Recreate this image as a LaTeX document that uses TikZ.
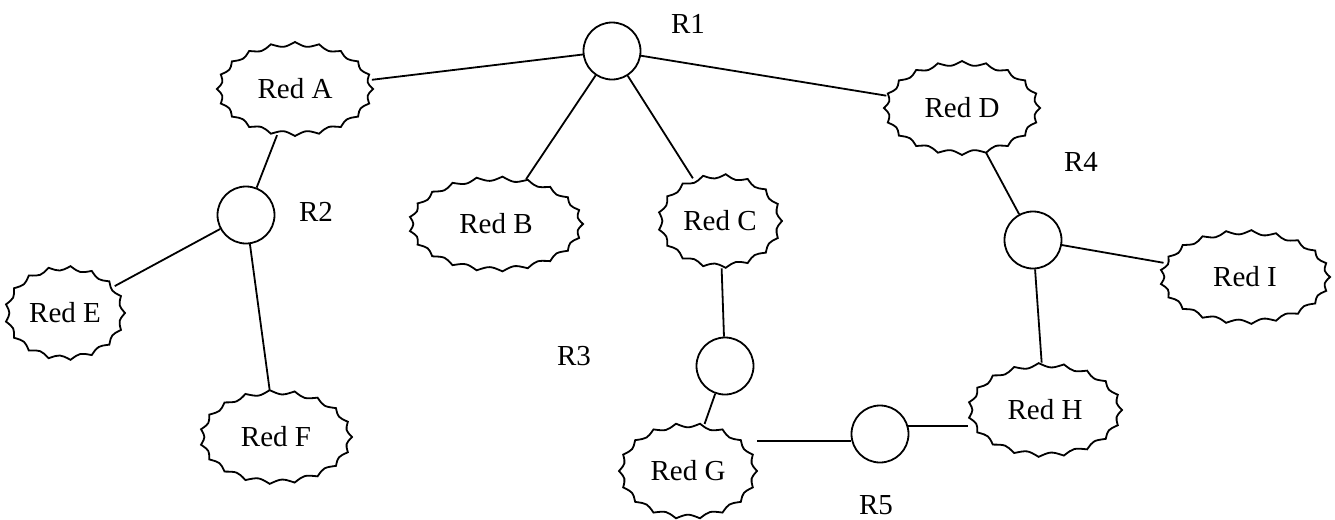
\documentclass[tikz,border=0pt]{standalone}
\usepackage{fontspec}
\setmainfont{Liberation Serif}
\usetikzlibrary{shapes.geometric,calc}
\newcommand\wavyoutline[4]{% name, a, b, number of points
  \pgfmathsetmacro\wavA{#2-5.5}%
  \pgfmathsetmacro\wavB{#3-5.5}%
  \draw[line width=0.9pt, line join=miter] ($(#1)+(#2,0)$)
    \foreach \i in {1,...,#4} {
      .. controls ($(#1)+({\wavA*cos((\i-0.5)*360/#4)},{\wavB*sin((\i-0.5)*360/#4)})$)
      .. ($(#1)+({#2*cos(\i*360/#4)},{#3*sin(\i*360/#4)})$)
    } -- cycle;
}
\begin{document}
\begin{tikzpicture}[x=0.5pt,y=-0.5pt,
  net/.style={ellipse, draw=none, inner sep=0pt, font=\fontsize{14.5}{16}\selectfont},
  rt/.style={circle, draw, line width=0.9pt, minimum size=28.5pt, inner sep=0pt},
  lbl/.style={font=\fontsize{14.5}{16}\selectfont, inner sep=0pt},
  link/.style={line width=0.9pt}]
\useasboundingbox (0,0) rectangle (1335,520);
\node[rt] (R1) at (612,51) {};
\node[lbl] (l1) at (688,24) {R1};
\node[rt] (R2) at (246,215) {};
\node[lbl] (l2) at (316,212) {R2};
\node[rt] (R3) at (725,366) {};
\node[lbl] (l3) at (574,356) {R3};
\node[rt] (R4) at (1033,240) {};
\node[lbl] (l4) at (1081,162) {R4};
\node[rt] (R5) at (880,434) {};
\node[lbl] (l5) at (876,505) {R5};
\node[net, minimum width=78pt, minimum height=47pt] (A) at (295,89) {Red A};
\node[net, minimum width=87pt, minimum height=47.5pt] (B) at (496,224) {Red B};
\node[net, minimum width=62pt, minimum height=47pt] (C) at (720,221) {Red C};
\node[net, minimum width=78pt, minimum height=47pt] (D) at (962,108) {Red D};
\node[net, minimum width=60pt, minimum height=47pt] (E) at (65,313) {Red E};
\node[net, minimum width=76pt, minimum height=47pt] (F) at (276,437) {Red F};
\node[net, minimum width=69pt, minimum height=48pt] (G) at (688,471) {Red G};
\node[net, minimum width=77pt, minimum height=47pt] (H) at (1045,410) {Red H};
\node[net, minimum width=85pt, minimum height=47pt] (I) at (1245,277) {Red I};
\wavyoutline{A}{78}{47}{20}
\wavyoutline{B}{87}{47.5}{21}
\wavyoutline{C}{62}{47}{17}
\wavyoutline{D}{78}{47}{20}
\wavyoutline{E}{60}{47}{17}
\wavyoutline{F}{76}{47}{19}
\wavyoutline{G}{69}{48}{18}
\wavyoutline{H}{77}{47}{19}
\wavyoutline{I}{85}{47}{21}
\draw[link] (R1) -- (A);
\draw[link] (R1) -- (B);
\draw[link] (R1) -- (C);
\draw[link] (R1) -- (D);
\draw[link] (A) -- (R2);
\draw[link] (R2) -- (E);
\draw[link] (R2) -- (F);
\draw[link] (C) -- (R3);
\draw[link] (R3) -- (G);
\draw[link] (G.east |- R5.194) -- (R5.194);
\draw[link] (R5.16) -- (H.west |- R5.16);
\draw[link] (D) -- (R4);
\draw[link] (R4) -- (I);
\draw[link] (R4) -- (H);
\end{tikzpicture}
\end{document}
